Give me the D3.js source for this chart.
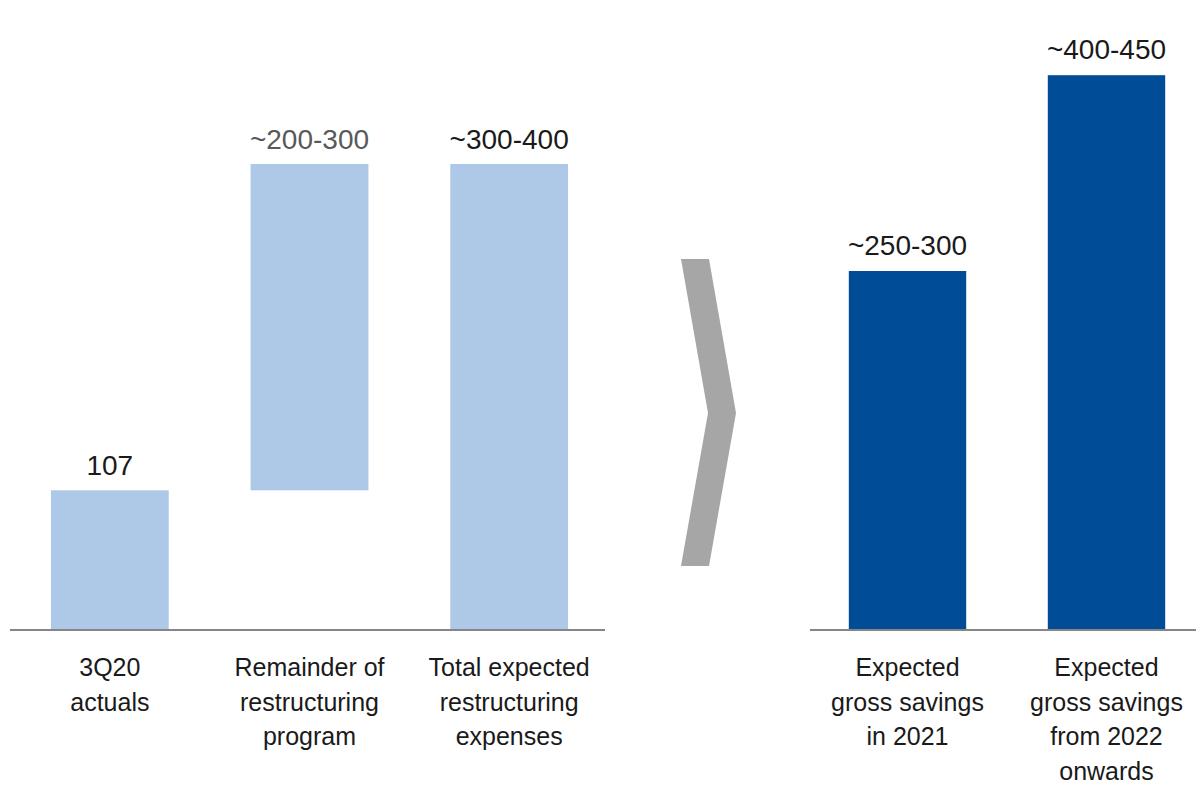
<!DOCTYPE html>
<html lang="en">
<head>
<meta charset="utf-8">
<title>Restructuring and savings</title>
<script src="https://d3js.org/d3.v7.min.js"></script>
<style>
  body { margin: 0; background: #fff; }
  text { font-family: "Liberation Sans", Arial, sans-serif; }
</style>
</head>
<body>
<script>
// Data
var costCats = ["3Q20 actuals", "Remainder of restructuring program", "Total expected restructuring expenses"];
var costLines = [["3Q20", "actuals"], ["Remainder of", "restructuring", "program"], ["Total expected", "restructuring", "expenses"]];
var costBase = [0, 107, 0];          // waterfall start
var costValue = [107, 250, 357];     // bar height (mid of range)
var costLabels = ["107", "~200-300", "~300-400"];

var saveCats = ["Expected gross savings in 2021", "Expected gross savings from 2022 onwards"];
var saveLines = [["Expected", "gross savings", "in 2021"], ["Expected", "gross savings", "from 2022", "onwards"]];
var saveValue = [275, 425];
var saveLabels = ["~250-300", "~400-450"];

var width = 1196, height = 785, baseY = 630;

var svg = d3.select("body").append("svg")
  .attr("width", width)
  .attr("height", height);

var y = d3.scaleLinear().domain([0, 482.6]).range([baseY, 0]);

var xL = d3.scaleBand().domain(costCats).range([10, 609])
  .paddingInner(0.41).paddingOuter(0.205);
var xR = d3.scaleBand().domain(saveCats).range([810, 1204])
  .paddingInner(0.41).paddingOuter(0.195);

// left panel bars
svg.selectAll("rect.cost")
  .data(costCats)
  .enter().append("rect")
  .attr("class", "cost")
  .attr("x", function(d) { return xL(d); })
  .attr("width", xL.bandwidth())
  .attr("y", function(d, i) { return y(costBase[i] + costValue[i]); })
  .attr("height", function(d, i) { return y(costBase[i]) - y(costBase[i] + costValue[i]); })
  .attr("fill", "#aec8e8");

svg.selectAll("text.costval")
  .data(costCats)
  .enter().append("text")
  .attr("class", "costval")
  .attr("x", function(d) { return xL(d) + xL.bandwidth() / 2; })
  .attr("y", function(d, i) { return y(costBase[i] + costValue[i]) - 15; })
  .attr("text-anchor", "middle")
  .attr("font-size", 28)
  .attr("fill", function(d, i) { return i === 1 ? "#595959" : "#1a1a1a"; })
  .text(function(d, i) { return costLabels[i]; });

// right panel bars
svg.selectAll("rect.save")
  .data(saveCats)
  .enter().append("rect")
  .attr("class", "save")
  .attr("x", function(d) { return xR(d); })
  .attr("width", xR.bandwidth())
  .attr("y", function(d, i) { return y(saveValue[i]); })
  .attr("height", function(d, i) { return y(0) - y(saveValue[i]); })
  .attr("fill", "#004c97");

svg.selectAll("text.saveval")
  .data(saveCats)
  .enter().append("text")
  .attr("class", "saveval")
  .attr("x", function(d) { return xR(d) + xR.bandwidth() / 2; })
  .attr("y", function(d, i) { return y(saveValue[i]) - 16; })
  .attr("text-anchor", "middle")
  .attr("font-size", 28)
  .attr("fill", "#1a1a1a")
  .text(function(d, i) { return saveLabels[i]; });

// baselines
svg.append("line").attr("x1", 10).attr("x2", 605).attr("y1", baseY).attr("y2", baseY)
  .attr("stroke", "#868686").attr("stroke-width", 2);
svg.append("line").attr("x1", 810).attr("x2", 1196).attr("y1", baseY).attr("y2", baseY)
  .attr("stroke", "#868686").attr("stroke-width", 2);

// category labels
function catLabels(scale, cats, lines) {
  var g = svg.selectAll(null).data(cats).enter().append("text")
    .attr("text-anchor", "middle")
    .attr("font-size", 25)
    .attr("fill", "#1a1a1a")
    .attr("transform", function(d) { return "translate(" + (scale(d) + scale.bandwidth() / 2) + "," + 676 + ")"; });
  g.selectAll("tspan")
    .data(function(d, i) { return lines[i]; })
    .enter().append("tspan")
    .attr("x", 0)
    .attr("y", function(d, j) { return j * 34.5; })
    .text(function(d) { return d; });
}
catLabels(xL, costCats, costLines);
catLabels(xR, saveCats, saveLines);

// chevron between panels
svg.append("path")
  .attr("d", "M681,259 L709,259 L736,413 L709,566 L681,566 L708,413 Z")
  .attr("fill", "#a6a6a6");
</script>
</body>
</html>
